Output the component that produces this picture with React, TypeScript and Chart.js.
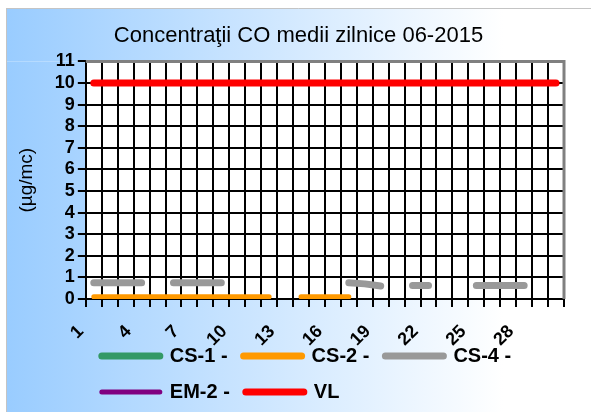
import React, { useEffect, useRef } from "react";
import { Chart, registerables } from "chart.js";

Chart.register(...registerables);

const FONT = "'Liberation Sans', Arial, Helvetica, sans-serif";

const titleText = "Concentraţii CO medii zilnice 06-2015";
const yAxisTitle = "(µg/mc)";

const days = [
  "1", "2", "3", "4", "5", "6", "7", "8", "9", "10",
  "11", "12", "13", "14", "15", "16", "17", "18", "19", "20",
  "21", "22", "23", "24", "25", "26", "27", "28", "29", "30",
];
const shownDayLabels = ["1", "4", "7", "10", "13", "16", "19", "22", "25", "28"];

const cs1 = [
  null, null, null, null, null, null, null, null, null, null,
  null, null, null, null, null, null, null, null, null, null,
  null, null, null, null, null, null, null, null, null, null,
];
const cs2 = [
  0.1, 0.1, 0.1, 0.1, 0.1, 0.1, 0.1, 0.1, 0.1, 0.1,
  0.1, 0.1, null, 0.1, 0.1, 0.1, 0.1, null, null, null,
  null, null, null, null, null, null, null, null, null, null,
];
const cs4 = [
  0.75, 0.75, 0.75, 0.75, null, 0.75, 0.75, 0.75, 0.75, null,
  null, null, null, null, null, null, 0.75, 0.7, 0.6, null,
  0.63, 0.63, null, null, 0.63, 0.63, 0.63, 0.63, null, null,
];
const em2 = [
  null, null, null, null, null, null, null, null, null, null,
  null, null, null, null, null, null, null, null, null, null,
  null, null, null, null, null, null, null, null, null, null,
];
const vl = [
  10, 10, 10, 10, 10, 10, 10, 10, 10, 10,
  10, 10, 10, 10, 10, 10, 10, 10, 10, 10,
  10, 10, 10, 10, 10, 10, 10, 10, 10, 10,
];

const seriesNames = ["CS-1 -", "CS-2 -", "CS-4 -", "EM-2 -", "VL"];
const seriesColors = ["#339966", "#ff9900", "#999999", "#800080", "#ff0000"];
const seriesWidths = [7, 5, 7, 5, 7];
const legendWidths = [7, 7, 7, 5, 7];

const yMin = 0;
const yMax = 11;
const yStep = 1;

const bgPlugin = {
  id: "bgPlugin",
  beforeDraw(chart: any) {
    const { ctx, width, height, chartArea: ca } = chart;
    ctx.save();
    const g = ctx.createLinearGradient(0, 0, width, 0);
    g.addColorStop(0, "#99ccff");
    g.addColorStop(0.85, "#ffffff");
    g.addColorStop(1, "#ffffff");
    ctx.fillStyle = g;
    // gradient around the plot area; the plot area itself stays white
    ctx.fillRect(0, 0, width, ca.top);
    ctx.fillRect(0, ca.bottom, width, height - ca.bottom);
    ctx.fillRect(0, ca.top, ca.left, ca.bottom - ca.top);
    ctx.fillRect(ca.right, ca.top, width - ca.right, ca.bottom - ca.top);
    ctx.strokeStyle = "#c4c4c4";
    ctx.lineWidth = 1;
    ctx.beginPath();
    ctx.moveTo(0, 0.5);
    ctx.lineTo(width, 0.5);
    ctx.moveTo(0.5, 0);
    ctx.lineTo(0.5, height);
    ctx.stroke();
    ctx.restore();
  },
  beforeDatasetsDraw(chart: any) {
    const { ctx, chartArea: ca } = chart;
    const xs = chart.scales.x;
    ctx.save();
    // vertical category-boundary grid lines, placed by the category scale
    ctx.strokeStyle = "#000000";
    ctx.lineWidth = 2;
    ctx.beginPath();
    for (let i = 1; i < days.length; i++) {
      const px = Math.round(xs.getPixelForValue(i - 0.5));
      ctx.moveTo(px, ca.top);
      ctx.lineTo(px, ca.bottom);
    }
    ctx.stroke();
    // grey frame on the top and right edges of the plot area
    ctx.strokeStyle = "#808080";
    ctx.lineWidth = 3;
    ctx.beginPath();
    ctx.moveTo(ca.left, ca.top);
    ctx.lineTo(ca.right, ca.top);
    ctx.lineTo(ca.right, ca.bottom);
    ctx.stroke();
    ctx.restore();
  },
};

// let the rotated day labels spill over the legend area (as in the original)
const labelAreaPlugin = {
  id: "labelAreaPlugin",
  afterLayout(chart: any) {
    const x = chart.scales.x;
    if (x) x.bottom = chart.height;
  },
};

export default function App() {
  const canvasRef = useRef<HTMLCanvasElement | null>(null);

  useEffect(() => {
    const canvas = canvasRef.current;
    if (!canvas) return;
    const allSeries = [cs1, cs2, cs4, em2, vl];
    const chart = new Chart(canvas, {
      type: "line",
      data: {
        labels: days,
        datasets: allSeries.map((d, i) => ({
          label: seriesNames[i],
          data: d,
          borderColor: seriesColors[i],
          backgroundColor: seriesColors[i],
          borderWidth: seriesWidths[i],
          borderCapStyle: "round",
          borderJoinStyle: "round",
          pointRadius: 0,
          pointHoverRadius: 0,
          tension: 0,
          spanGaps: false,
          yAxisID: "y",
        })),
      },
      options: {
        animation: false,
        responsive: false,
        events: [],
        layout: { padding: { left: 5, right: 5, top: 0, bottom: 0 } },
        plugins: {
          tooltip: { enabled: false },
          title: {
            display: true,
            text: titleText,
            color: "#000",
            font: { family: FONT, size: 22, weight: "normal" },
            padding: { top: 15, bottom: 12 },
          },
          legend: {
            position: "bottom",
            align: "start",
            fullSize: false,
            labels: {
              usePointStyle: true,
              pointStyle: "line",
              pointStyleWidth: 58,
              color: "#000",
              padding: 16,
              font: { family: FONT, size: 20, weight: "bold" },
              generateLabels: (c: any) =>
                (Chart as any).defaults.plugins.legend.labels
                  .generateLabels(c)
                  .map((it: any, i: number) => ({
                    ...it,
                    lineWidth: legendWidths[i],
                    lineCap: "round",
                  })),
            },
          },
        },
        scales: {
          x: {
            offset: true,
            grid: {
              offset: true,
              drawOnChartArea: false,
              color: "#000000",
              lineWidth: 2,
              tickColor: "#000000",
              tickWidth: 2,
              tickLength: 8,
            },
            border: { color: "#000", width: 2 },
            ticks: {
              autoSkip: false,
              minRotation: 45,
              maxRotation: 45,
              labelOffset: -13,
              padding: 14,
              color: "#000",
              font: { family: FONT, size: 18, weight: "bold" },
              callback: (_v: any, i: number) =>
                shownDayLabels.includes(days[i]) ? days[i] : "",
            },
            afterFit: (s: any) => {
              s.height = 31;
            },
          },
          y: {
            min: yMin,
            max: yMax,
            grid: {
              color: "#000000",
              lineWidth: 2,
              tickColor: "#000000",
              tickWidth: 2,
              tickLength: 8,
            },
            border: { color: "#000", width: 2 },
            ticks: {
              stepSize: yStep,
              autoSkip: false,
              padding: 3,
              color: "#000",
              font: { family: FONT, size: 18, weight: "bold" },
            },
            title: {
              display: true,
              text: yAxisTitle,
              color: "#000",
              font: { family: FONT, size: 19, weight: "normal" },
              padding: { top: 4, bottom: 14 },
            },
          },
          yRight: {
            type: "linear",
            position: "right",
            display: true,
            grid: { display: false, drawTicks: false },
            border: { display: false },
            ticks: { display: false },
            afterFit: (s: any) => {
              s.width = 22;
            },
          },
        },
      } as any,
      plugins: [bgPlugin, labelAreaPlugin],
    });
    return () => chart.destroy();
  }, []);

  return (
    <div style={{ position: "absolute", left: 6, top: 8, width: 585, height: 404, background: "#ffffff" }}>
      <canvas ref={canvasRef} width={585} height={404} style={{ display: "block" }} />
    </div>
  );
}
